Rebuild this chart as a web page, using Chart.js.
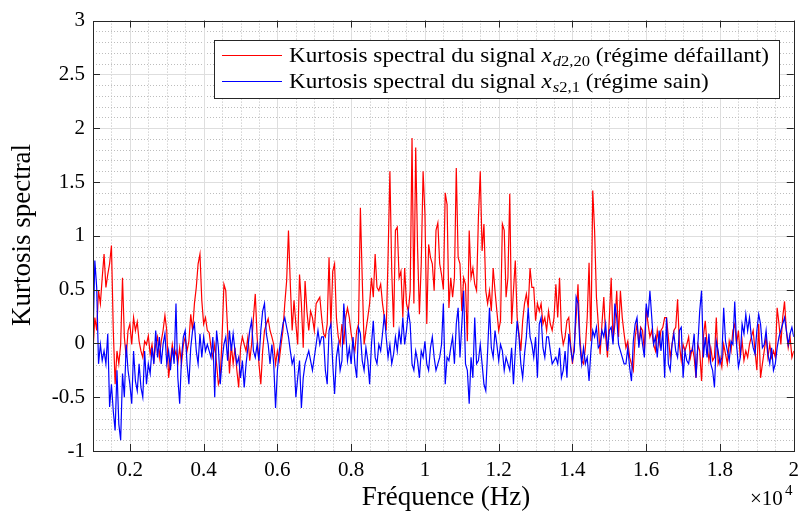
<!DOCTYPE html>
<html>
<head>
<meta charset="utf-8">
<script src="https://cdn.jsdelivr.net/npm/chart.js@4.4.0/dist/chart.umd.min.js"></script>
<style>
  html, body { margin: 0; padding: 0; background: #fff; }
  #wrap { width: 806px; height: 523px; }
</style>
</head>
<body>
<div id="wrap"><canvas id="kurtosisChart" width="806" height="523"></canvas></div>
<script>
// frequency grid of the spectra (Hz): 1000, 1050, ... 20000
const freqStart = 1000;
const freqStep = 50;

const xTickValues = [2000, 4000, 6000, 8000, 10000, 12000, 14000, 16000, 18000, 20000];
const xTickLabels = ['0.2', '0.4', '0.6', '0.8', '1', '1.2', '1.4', '1.6', '1.8', '2'];
const yTickValues = [-1, -0.5, 0, 0.5, 1, 1.5, 2, 2.5, 3];
const yTickLabels = ['-1', '-0.5', '0', '0.5', '1', '1.5', '2', '2.5', '3'];

// kurtosis spectral, signal x_d2,20 (defective)
const redKurtosis = [
  // 1000 - 4100 Hz
  -0.07, 0.24, 0.12, 0.49, 0.37, 0.61, 0.83, 0.52, 0.64, 0.74,
  0.91, 0.12, -0.38, -0.07, -0.19, -0.01, 0.61, 0.06, -0.13, 0.12,
  0.18, -0.01, 0.24, 0.12, 0.2, 0.02, -0.07, -0.13, 0.02, -0.01,
  0.07, -0.1, -0.01, -0.16, -0.01, 0.06, -0.13, 0.02, 0.12, 0.26,
  0.12, -0.32, -0.16, -0.01, -0.13, -0.07, -0.19, -0.04, -0.19, -0.01,
  0.06, -0.07, 0.02, 0.27, 0.12, 0.37, 0.52, 0.74, 0.83, 0.4,
  0.18, 0.24, 0.12,
  // 4150 - 7200 Hz
  0.1, -0.04, -0.13, -0.01, -0.19, -0.38, -0.32, 0.06, 0.55, 0.49,
  0.12, -0.28, -0.01, -0.19, -0.04, -0.25, -0.41, -0.04, 0.06, -0.01,
  -0.07, 0.06, -0.16, -0.01, 0.24, 0.46, 0.06, -0.19, -0.38, -0.07,
  0.12, 0.18, 0.23, 0.12, 0.06, -0.01, -0.19, -0.07, -0.16, -0.01,
  0.12, 0.37, 0.58, 1.05, 0.55, 0.12, 0.4, 0.18, -0.01, 0.64,
  0.37, -0.04, 0.58, 0.3, 0.12, 0.3, 0.24, 0.12, 0.37, 0.4,
  0.43, 0.24,
  // 7250 - 10300 Hz
  0.09, 0.06, 0.18, 0.8, 0.15, 0.67, 0.74, 0.24, 0.06, -0.01,
  0.18, -0.01, 0.24, 0.33, 0.24, 0.09, -0.01, -0.07, 0.12, 0.18,
  1.26, 0.6, -0.01, 0.12, 0.24, 0.37, 0.61, 0.43, 0.83, 0.52,
  0.49, 0.55, 0.37, 0.24, 0.12, 0.8, 1.6, 0.67, 0.15, 1.05,
  1.08, 0.61, 0.67, 0.24, 0.7, 0.37, 0.3, 0.49, 1.91, 0.37,
  1.82, 0.89, 0.27, 0.74, 1.6, 1.2, 0.18, 0.92, 0.8, 0.74,
  0.49, 1.05,
  // 10350 - 13400 Hz
  1.12, 0.74, 0.64, 0.5, 1.4, 1.29, 0.33, 0.61, 0.43, 0.61,
  1.63, 0.8, 0.74, 0.3, 0.61, 0.55, 0.02, 1.05, 0.61, 0.7,
  0.55, 0.49, 1.17, 1.6, 0.86, 1.11, 0.49, 0.37, 0.49, 0.3,
  0.7, 0.49, 0.3, 0.12, 0.21, 1.11, 1.05, 0.43, 0.61, 1.39,
  0.18, 0.49, 0.77, 0.24, 0.09, -0.07, 0.21, 0.37, 0.46, 0.33,
  0.7, 0.52, 0.52, 0.21, 0.37, 0.3, 0.37, 0.18, 0.24, 0.12,
  0.3, 0.18,
  // 13450 - 16500 Hz
  0.12, 0.24, 0.55, 0.24, 0.61, 0.12, -0.01, 0.06, 0.21, 0.24,
  -0.01, -0.19, -0.01, 0.24, 0.55, 0.06, -0.16, -0.19, -0.04, 0.24,
  0.75, 0.02, 1.42, 1.05, 0.43, 0.18, -0.1, 0.18, 0.43, 0.06,
  -0.13, 0.24, 0.61, 0.02, 0.18, 0.49, 0.06, 0.49, 0.24, 0.09,
  -0.04, 0.02, -0.13, -0.19, -0.25, 0.06, 0.18, -0.01, 0.15, 0.12,
  -0.07, 0.33, 0.18, 0.06, 0.12, -0.01, -0.07, 0.12, -0.01, 0.12,
  0.15, 0.24,
  // 16550 - 20000 Hz
  0.24, 0.06, -0.13, -0.01, 0.12, 0.15, 0.41, -0.01, -0.16, -0.01,
  -0.07, -0.01, 0.06, -0.13, -0.04, -0.13, -0.32, -0.01, -0.07, -0.35,
  0.06, 0.21, -0.01, -0.16, -0.04, -0.16, -0.13, 0.24, -0.19, -0.13,
  -0.22, -0.01, -0.1, -0.19, 0.02, -0.07, 0.12, 0.18, -0.01, 0.12,
  -0.13, 0.02, -0.16, -0.07, -0.13, -0.01, 0.06, 0.12, -0.07, -0.25,
  0.18, -0.32, -0.19, -0.07, 0.06, -0.13, -0.01, -0.13, -0.07, -0.13,
  0.33, 0.18, -0.01, 0.24, 0.39, 0.12, -0.04, 0.06, -0.13, -0.07
];

// kurtosis spectral, signal x_s2,1 (healthy)
const blueKurtosis = [
  // 1000 - 4100 Hz
  0.06, 0.77, 0.52, -0.19, -0.01, -0.16, -0.07, -0.19, 0.09, -0.59,
  -0.38, -0.63, -0.81, -0.25, -0.75, -0.9, -0.28, -0.5, -0.01, -0.25,
  -0.38, -0.56, -0.07, -0.35, -0.44, -0.19, -0.41, -0.5, -0.07, -0.38,
  -0.19, -0.28, -0.04, -0.19, 0.12, -0.13, 0.06, -0.19, -0.01, 0.09,
  -0.19, -0.07, -0.25, -0.04, -0.19, 0.37, -0.32, -0.56, -0.13, 0.06,
  0.12, -0.19, -0.38, -0.04, 0.12, 0.18, -0.07, -0.19, 0.09, -0.13,
  0.06, -0.07, -0.01,
  // 4150 - 7200 Hz
  -0.07, -0.13, 0.06, -0.5, 0.12, -0.04, -0.38, -0.16, -0.01, 0.06,
  -0.16, 0.12, -0.07, 0.09, -0.07, -0.19, -0.13, -0.32, -0.16, -0.41,
  -0.19, -0.04, 0.12, 0.21, -0.07, -0.13, -0.01, -0.16, 0.12, 0.3,
  0.37, 0.09, -0.01, -0.19, -0.01, -0.19, -0.6, -0.25, -0.07, 0.06,
  0.18, 0.24, 0.15, 0.06, -0.07, -0.19, -0.13, -0.5, -0.32, -0.16,
  -0.6, -0.32, -0.19, -0.13, -0.07, -0.16, -0.25, -0.13, -0.01, 0.12,
  -0.01, 0.06,
  // 7250 - 10300 Hz
  0.06, -0.25, -0.38, 0.12, 0.18, -0.19, -0.47, -0.13, -0.01, -0.25,
  -0.16, 0.37, 0.12, -0.16, -0.04, -0.19, 0.06, -0.19, -0.32, 0.15,
  0.09, -0.16, -0.25, -0.04, -0.16, -0.38, -0.01, 0.21, -0.13, -0.19,
  -0.01, -0.07, 0.09, 0.27, 0.06, -0.13, -0.01, -0.19, -0.1, 0.06,
  -0.07, 0.12, -0.01, 0.24, -0.01, 0.12, 0.3, 0.18, -0.19, -0.25,
  -0.07, -0.16, -0.32, -0.07, -0.13, 0.02, -0.19, -0.25, -0.04, 0.06,
  -0.13, -0.25,
  // 10350 - 13400 Hz
  -0.19, -0.13, -0.01, 0.37, -0.38, -0.13, -0.16, -0.04, 0.06, -0.19,
  0.18, 0.33, -0.13, 0.18, 0.49, -0.19, -0.25, -0.56, -0.13, -0.32,
  0.24, -0.19, -0.16, -0.01, -0.19, -0.38, -0.44, -0.07, 0.33, -0.04,
  -0.13, 0.12, -0.01, -0.16, -0.01, -0.07, -0.25, -0.13, -0.19, -0.25,
  -0.04, -0.38, -0.07, 0.21, 0.06, -0.19, -0.32, -0.1, 0.06, 0.33,
  0.06, -0.01, -0.13, 0.06, -0.32, 0.18, 0.24, -0.04, -0.13, 0.06,
  0.06, -0.07,
  // 13450 - 16500 Hz
  -0.19, -0.16, -0.13, -0.19, -0.04, -0.32, -0.25, -0.07, -0.32, 0.09,
  -0.04, -0.16, -0.07, 0.43, 0.37, -0.01, -0.19, -0.04, -0.19, -0.13,
  -0.35, -0.07, 0.12, 0.06, 0.15, -0.04, -0.01, 0.12, 0.06, 0.18,
  -0.07, 0.12, 0.15, -0.01, 0.37, 0.24, -0.01, -0.07, -0.13, -0.19,
  -0.19, -0.04, -0.22, -0.35, 0.02, 0.18, 0.24, -0.04, 0.12, -0.01,
  -0.13, 0.37, 0.24, 0.49, 0.24, -0.01, 0.06, -0.13, 0.12, -0.07,
  0.12, -0.32,
  // 16550 - 20000 Hz
  0.24, -0.19, -0.25, -0.01, 0.09, -0.07, -0.13, 0.12, 0.15, -0.32,
  -0.07, -0.16, -0.19, -0.07, -0.07, 0.09, -0.32, -0.01, 0.3, 0.49,
  -0.13, 0.06, -0.13, 0.09, -0.19, -0.25, -0.41, 0.02, -0.07, -0.19,
  -0.13, 0.33, 0.02, -0.07, -0.16, 0.02, -0.01, 0.39, -0.01, -0.22,
  -0.13, 0.18, 0.09, 0.27, 0.12, 0.24, 0.06, -0.04, -0.1, 0.12,
  0.27, 0.18, -0.04, -0.01, 0.12, -0.1, -0.19, -0.04, -0.25, -0.19,
  -0.04, 0.06, 0.12, 0.18, 0.24, 0.12, -0.01, 0.09, 0.15, 0.06
];

const SERIF = '"Liberation Serif", "Times New Roman", serif';
const AXIS_COLOR = '#262626';

function toPoints(values) {
  return values.map((v, i) => ({ x: freqStart + i * freqStep, y: v }));
}

// MATLAB-like grid: dotted minor lines, light solid major lines
const gridPlugin = {
  id: 'matlabGrid',
  beforeDatasetsDraw(chart) {
    const { ctx, chartArea: a, scales: { x, y } } = chart;
    ctx.save();
    ctx.lineWidth = 1;
    ctx.strokeStyle = '#bdbdbd';
    ctx.setLineDash([1, 2]);
    for (let f = 1500; f < 20000; f += 500) {
      if (f % 2000 === 0) continue;
      const px = Math.round(x.getPixelForValue(f)) + 0.5;
      ctx.beginPath(); ctx.moveTo(px, a.top); ctx.lineTo(px, a.bottom); ctx.stroke();
    }
    for (let k = -9; k < 30; k++) {
      if (k % 5 === 0) continue;
      const py = Math.round(y.getPixelForValue(k / 10)) + 0.5;
      ctx.beginPath(); ctx.moveTo(a.left, py); ctx.lineTo(a.right, py); ctx.stroke();
    }
    ctx.setLineDash([]);
    ctx.strokeStyle = '#dedede';
    xTickValues.forEach(f => {
      const px = Math.round(x.getPixelForValue(f)) + 0.5;
      ctx.beginPath(); ctx.moveTo(px, a.top); ctx.lineTo(px, a.bottom); ctx.stroke();
    });
    yTickValues.forEach(v => {
      const py = Math.round(y.getPixelForValue(v)) + 0.5;
      ctx.beginPath(); ctx.moveTo(a.left, py); ctx.lineTo(a.right, py); ctx.stroke();
    });
    ctx.restore();
  }
};

// draws "Kurtosis spectral du signal x_sub (tail)" and returns its width
function drawLegendLine(ctx, r, x0, base, draw) {
  let cx = x0;
  const put = (font, txt, dy) => {
    ctx.font = font;
    if (draw) ctx.fillText(txt, cx, base + dy);
    cx += ctx.measureText(txt).width;
  };
  put('21px ' + SERIF, 'Kurtosis spectral du signal ', 0);
  put('italic 21px ' + SERIF, 'x', 0);
  cx += 1;
  put('italic 15px ' + SERIF, r.sub[0], 4);
  put('15px ' + SERIF, r.sub[1], 4);
  put('21px ' + SERIF, r.tail, 0);
  return cx - x0;
}

// box, inward ticks, legend, axis titles
const decorPlugin = {
  id: 'matlabDecor',
  afterDraw(chart) {
    const { ctx, chartArea: a, scales: { x, y } } = chart;
    ctx.save();
    ctx.strokeStyle = AXIS_COLOR;
    ctx.lineWidth = 1;
    ctx.strokeRect(Math.round(a.left) + 0.5, Math.round(a.top) + 0.5,
      Math.round(a.right - a.left), Math.round(a.bottom - a.top));
    const tick = 7;
    xTickValues.forEach(f => {
      const px = Math.round(x.getPixelForValue(f)) + 0.5;
      ctx.beginPath();
      ctx.moveTo(px, a.bottom); ctx.lineTo(px, a.bottom - tick);
      ctx.moveTo(px, a.top); ctx.lineTo(px, a.top + tick);
      ctx.stroke();
    });
    yTickValues.forEach(v => {
      const py = Math.round(y.getPixelForValue(v)) + 0.5;
      ctx.beginPath();
      ctx.moveTo(a.left, py); ctx.lineTo(a.left + tick, py);
      ctx.moveTo(a.right, py); ctx.lineTo(a.right - tick, py);
      ctx.stroke();
    });

    // legend
    const lx = 214.5, ly = 40.5, lw = 565, lh = 58;
    ctx.fillStyle = '#fff';
    ctx.fillRect(lx, ly, lw, lh);
    ctx.strokeRect(lx, ly, lw, lh);
    const rows = [
      { color: '#ff0000', y: 55, sub: ['d', '2,20'], tail: ' (régime défaillant)' },
      { color: '#0000ff', y: 81, sub: ['s', '2,1'], tail: ' (régime sain)' }
    ];
    ctx.fillStyle = '#000';
    ctx.textBaseline = 'alphabetic';
    ctx.textAlign = 'left';
    // the reference font (Computer Modern) runs wider than Times: stretch to fit
    const textLeft = 289, textRight = 769;
    const sx = (textRight - textLeft) / drawLegendLine(ctx, rows[0], 0, 0, false);
    rows.forEach(r => {
      ctx.strokeStyle = r.color;
      ctx.lineWidth = 1.2;
      ctx.beginPath(); ctx.moveTo(222, r.y + 0.5); ctx.lineTo(282, r.y + 0.5); ctx.stroke();
      ctx.save();
      ctx.translate(textLeft, 0);
      ctx.scale(sx, 1);
      drawLegendLine(ctx, r, 0, r.y + 7, true);
      ctx.restore();
    });

    // axis titles
    ctx.fillStyle = '#000';
    ctx.font = '27px ' + SERIF;
    ctx.textAlign = 'center';
    ctx.textBaseline = 'middle';
    ctx.fillText('Fréquence (Hz)', 446, 498);
    ctx.save();
    ctx.translate(23, 235);
    ctx.rotate(-Math.PI / 2);
    ctx.fillText('Kurtosis spectral', 0, 0);
    ctx.restore();

    // exponent
    ctx.textAlign = 'left';
    ctx.textBaseline = 'alphabetic';
    ctx.font = '21px ' + SERIF;
    ctx.fillText('×10', 750, 505);
    ctx.font = '15px ' + SERIF;
    ctx.fillText('4', 785, 495);
    ctx.restore();
  }
};

new Chart(document.getElementById('kurtosisChart'), {
  type: 'line',
  data: {
    datasets: [
      {
        label: 'x_d2,20',
        data: toPoints(redKurtosis),
        borderColor: '#ff0000',
        borderWidth: 1.2,
        pointRadius: 0,
        tension: 0,
        fill: false,
        order: 1
      },
      {
        label: 'x_s2,1',
        data: toPoints(blueKurtosis),
        borderColor: '#0000ff',
        borderWidth: 1.2,
        pointRadius: 0,
        tension: 0,
        fill: false,
        order: 0
      }
    ]
  },
  options: {
    responsive: false,
    animation: false,
    layout: { padding: { top: 19, right: 8, left: 0, bottom: 0 } },
    plugins: { legend: { display: false }, tooltip: { enabled: false } },
    scales: {
      x: {
        type: 'linear',
        min: 1000,
        max: 20000,
        afterBuildTicks: s => { s.ticks = xTickValues.map(v => ({ value: v })); },
        afterFit: s => { s.height = 72; },
        grid: { display: false, drawTicks: false },
        border: { display: false },
        ticks: {
          autoSkip: false,
          maxRotation: 0,
          padding: 7,
          color: '#000',
          font: { family: SERIF, size: 21 },
          callback: v => xTickLabels[xTickValues.indexOf(v)]
        }
      },
      y: {
        min: -1,
        max: 3,
        afterBuildTicks: s => { s.ticks = yTickValues.map(v => ({ value: v })); },
        afterFit: s => { s.width = 93; },
        grid: { display: false, drawTicks: false },
        border: { display: false },
        ticks: {
          padding: 8,
          color: '#000',
          font: { family: SERIF, size: 21 },
          callback: v => yTickLabels[yTickValues.indexOf(v)]
        }
      }
    }
  },
  plugins: [gridPlugin, decorPlugin]
});
</script>
</body>
</html>
